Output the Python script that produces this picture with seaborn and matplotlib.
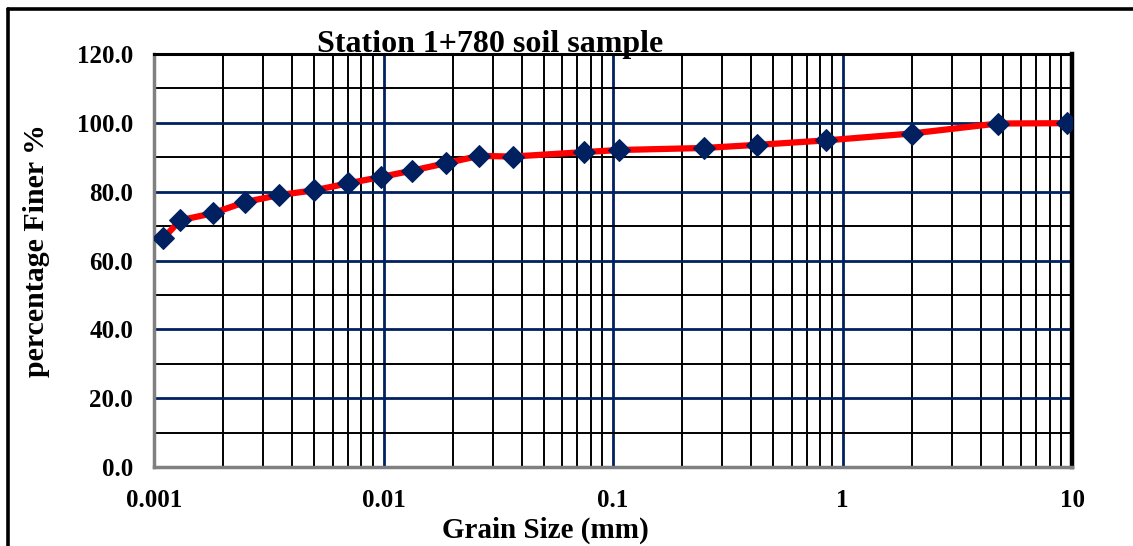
import numpy as np
import pandas as pd
import matplotlib
matplotlib.use("Agg")
import matplotlib.pyplot as plt
import seaborn as sns
from matplotlib.ticker import LogLocator, MultipleLocator, FuncFormatter, NullFormatter
from matplotlib.lines import Line2D

# Data
grain_size_mm = [0.0011, 0.0013, 0.0018, 0.0025, 0.0035, 0.0050, 0.0070, 0.0098,
                 0.0133, 0.0188, 0.0261, 0.0366, 0.075, 0.106, 0.25, 0.425,
                 0.85, 2.0, 4.75, 9.5]
percent_finer = [66.5, 71.7, 73.7, 77.0, 79.0, 80.4, 82.4, 84.3,
                 86.1, 88.3, 90.4, 90.2, 91.5, 92.1, 92.7, 93.6,
                 94.9, 96.9, 99.8, 99.9]
x_ticks = [0.001, 0.01, 0.1, 1, 10]
x_tick_labels = ["0.001", "0.01", "0.1", "1", "10"]
y_ticks = [0, 20, 40, 60, 80, 100, 120]
title = "Station 1+780 soil sample"
xlabel = "Grain Size (mm)"
ylabel = "percentage Finer %"

sns.set_theme(style="white")
plt.rcParams["font.family"] = ["Liberation Serif", "DejaVu Serif"]
plt.rcParams["font.weight"] = "bold"
plt.rcParams["text.color"] = "black"
plt.rcParams["axes.labelcolor"] = "black"
plt.rcParams["xtick.color"] = "black"
plt.rcParams["ytick.color"] = "black"

NAVY = "#002060"

fig = plt.figure(figsize=(11.33, 5.46), dpi=100)
ax = fig.add_axes([154/1133, 1-467/546, (1072-154)/1133, (467-54)/546])

df = pd.DataFrame({"size": grain_size_mm, "finer": percent_finer})
sns.lineplot(data=df, x="size", y="finer", ax=ax, color="red", lw=4.5,
             marker="D", markersize=11.5, markerfacecolor=NAVY,
             markeredgecolor=NAVY, sort=False, zorder=5)

ax.set_xscale("log")
ax.set_xlim(0.001, 10)
ax.set_ylim(0, 120)
ax.xaxis.set_major_locator(LogLocator(base=10))
ax.xaxis.set_minor_locator(LogLocator(base=10, subs=np.arange(2, 10)))
ax.xaxis.set_minor_formatter(NullFormatter())
ax.set_xticks(x_ticks)
ax.set_xticklabels(x_tick_labels)
ax.set_yticks(y_ticks)
ax.yaxis.set_major_formatter(FuncFormatter(lambda v, p: f"{v:.1f}"))
ax.yaxis.set_minor_locator(MultipleLocator(10))

ax.grid(which="major", color=NAVY, lw=2.0)
ax.grid(which="minor", color="black", lw=1.4)
ax.set_axisbelow(True)

ax.tick_params(which="both", length=0)
ax.tick_params(axis="x", labelsize=18, pad=16, labelcolor="black")
ax.tick_params(axis="y", labelsize=18, pad=15, labelcolor="black")
for lab in ax.get_xticklabels() + ax.get_yticklabels():
    lab.set_fontweight("bold")

for side in ["left", "bottom"]:
    ax.spines[side].set_color("#808080")
    ax.spines[side].set_linewidth(2.5)
ax.spines["top"].set_color("black")
ax.spines["top"].set_linewidth(2.2)
ax.spines["right"].set_color("black")
ax.spines["right"].set_linewidth(3.2)

ax.set_xlabel(xlabel, fontsize=21, fontweight="bold", color="black")
ax.set_ylabel(ylabel, fontsize=21.5, fontweight="bold", color="black")
ax.xaxis.set_label_coords((545-154)/918, (467-538)/413)
ax.xaxis.label.set_va("baseline")
ax.yaxis.set_label_coords((44-154)/918, (467-251)/413)
ax.yaxis.label.set_va("baseline")

fig.text(490/1133, 1-52/546, title, ha="center", va="baseline",
         fontsize=23, fontweight="bold", color="black")

# outer frame lines (top and left)
fig.add_artist(Line2D([8/1133, 1.0], [1-9/546, 1-9/546], color="black", lw=2.6,
                      transform=fig.transFigure))
fig.add_artist(Line2D([8/1133, 8/1133], [0, 1-9/546], color="black", lw=2.6,
                      transform=fig.transFigure))

fig.savefig("out.png", dpi=100)
